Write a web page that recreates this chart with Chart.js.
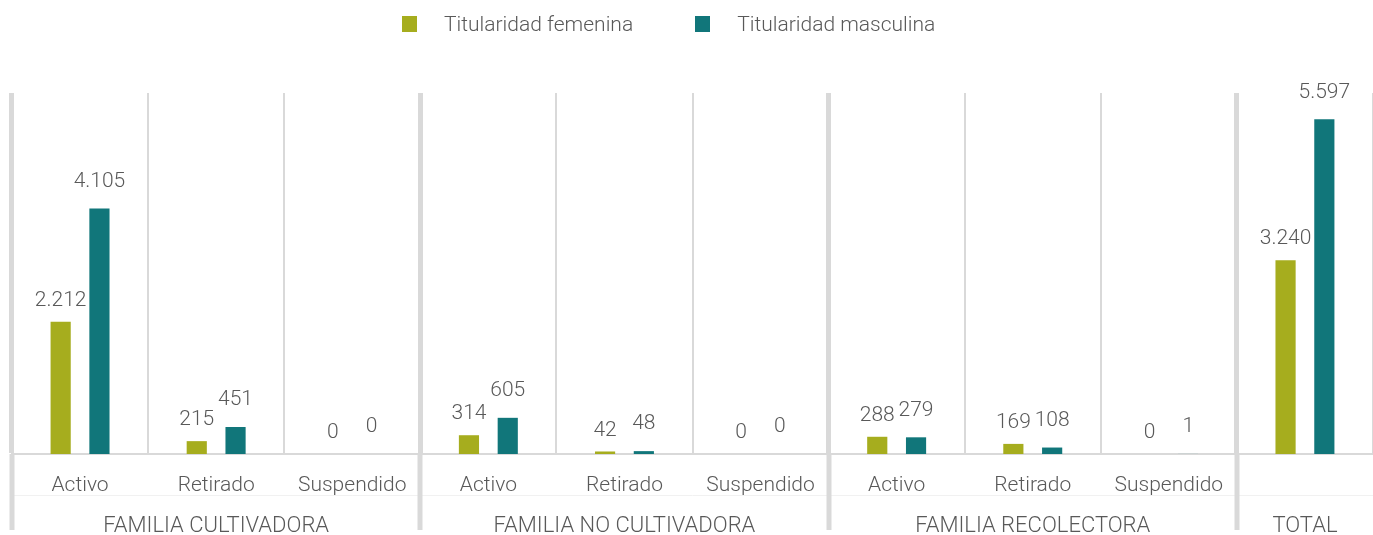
<!DOCTYPE html>
<html lang="es">
<head>
<meta charset="utf-8">
<title>Titularidad por familia y estado</title>
<script src="https://cdn.jsdelivr.net/npm/chart.js@4.4.1/dist/chart.umd.min.js"></script>
<style>
  html, body { margin: 0; padding: 0; background: #fff; }
  #wrap { position: relative; width: 1373px; height: 535px; }
  #legend {
    position: absolute; left: 402px; top: 8px; height: 32px;
    display: flex; align-items: center;
    font-family: 'Roboto', sans-serif; font-weight: 300; font-size: 21px; color: #595959;
  }
  #legend .item { display: flex; align-items: center; margin-right: 62px; }
  #legend .box { width: 15px; height: 16px; margin-right: 27px; }
</style>
</head>
<body>
<div id="wrap">
  <canvas id="chart" width="1373" height="535"></canvas>
  <div id="legend"></div>
</div>
<script>
// categories and groups along the x axis
const categories = ['Activo', 'Retirado', 'Suspendido',
                    'Activo', 'Retirado', 'Suspendido',
                    'Activo', 'Retirado', 'Suspendido',
                    ''];
const groupNames = ['FAMILIA CULTIVADORA', 'FAMILIA NO CULTIVADORA', 'FAMILIA RECOLECTORA', 'TOTAL'];
const groupSizes = [3, 3, 3, 1];

// series
const seriesNames = ['Titularidad femenina', 'Titularidad masculina'];
const femenina  = [2212, 215, 0, 314, 42, 0, 288, 169, 0, 3240];
const masculina = [4105, 451, 0, 605, 48, 0, 279, 108, 1, 5597];

const COLORS = ['#a6ad1e', '#11767a'];
const TEXT = '#595959';
const GRID = '#d9d9d9';
const FONT = 'Roboto';

// thousands separator with a dot
const fmt = v => String(v).replace(/\B(?=(\d{3})+(?!\d))/g, '.');

// indexes of grid lines that start a new group
const groupEdges = [];
groupSizes.reduce((acc, n) => { groupEdges.push(acc); return acc + n; }, 0);

// value labels above each bar
const barLabels = {
    id: 'barLabels',
    afterDatasetsDraw(chart) {
        const ctx = chart.ctx;
        const lift = [21, 27];
        ctx.save();
        ctx.font = `300 21px ${FONT}`;
        ctx.fillStyle = TEXT;
        ctx.textAlign = 'center';
        ctx.textBaseline = 'middle';
        chart.data.datasets.forEach((ds, di) => {
            chart.getDatasetMeta(di).data.forEach((bar, i) => {
                ctx.fillText(fmt(ds.data[i]), bar.x, bar.y - lift[di]);
            });
        });
        ctx.restore();
    }
};

// group separators below the axis and the group names
const groupAxis = {
    id: 'groupAxis',
    afterDraw(chart) {
        const ctx = chart.ctx;
        const x = chart.scales.x;
        const area = chart.chartArea;
        const bottom = chart.height - 5;
        ctx.save();

        // faint rule between the two label rows
        ctx.strokeStyle = '#f1f1f1';
        ctx.lineWidth = 1;
        ctx.beginPath();
        ctx.moveTo(area.left, area.bottom + 41.5);
        ctx.lineTo(area.right, area.bottom + 41.5);
        ctx.stroke();

        ctx.strokeStyle = GRID;
        ctx.lineWidth = 5;
        groupEdges.forEach(i => {
            const px = Math.round(x.getPixelForValue(i - 0.5));
            ctx.beginPath();
            ctx.moveTo(px, area.bottom);
            ctx.lineTo(px, bottom);
            ctx.stroke();
        });

        ctx.font = `300 22px ${FONT}`;
        ctx.fillStyle = TEXT;
        ctx.textAlign = 'center';
        ctx.textBaseline = 'middle';
        let start = 0;
        groupNames.forEach((name, g) => {
            const mid = start + (groupSizes[g] - 1) / 2;
            ctx.fillText(name, x.getPixelForValue(mid), area.bottom + 72);
            start += groupSizes[g];
        });
        ctx.restore();
    }
};

const chart = new Chart(document.getElementById('chart'), {
    type: 'bar',
    data: {
        labels: categories,
        datasets: [
            { label: seriesNames[0], data: femenina, backgroundColor: COLORS[0] },
            { label: seriesNames[1], data: masculina, backgroundColor: COLORS[1] }
        ]
    },
    options: {
        responsive: false,
        animation: false,
        categoryPercentage: 0.57,
        barPercentage: 0.52,
        layout: { padding: { top: 93, left: 12, right: 0, bottom: 0 } },
        plugins: {
            legend: { display: false },
            tooltip: { enabled: false }
        },
        scales: {
            x: {
                afterFit(scale) { scale.height = 81; },
                grid: {
                    offset: true,
                    drawTicks: false,
                    color: c => c.index >= categories.length ? 'rgba(0,0,0,0)' : GRID,
                    lineWidth: c => groupEdges.includes(c.index) ? 5 : 2
                },
                border: { display: true, color: GRID, width: 2 },
                ticks: {
                    padding: 19,
                    color: TEXT,
                    font: { family: FONT, size: 21, weight: 300 },
                    maxRotation: 0,
                    autoSkip: false
                }
            },
            y: {
                display: false,
                min: 0,
                max: 6036
            }
        }
    },
    plugins: [barLabels, groupAxis]
});

// legend
const legend = document.getElementById('legend');
seriesNames.forEach((name, i) => {
    const item = document.createElement('div');
    item.className = 'item';
    item.innerHTML = `<span class="box" style="background:${COLORS[i]}"></span><span>${name}</span>`;
    legend.appendChild(item);
});
</script>
</body>
</html>
